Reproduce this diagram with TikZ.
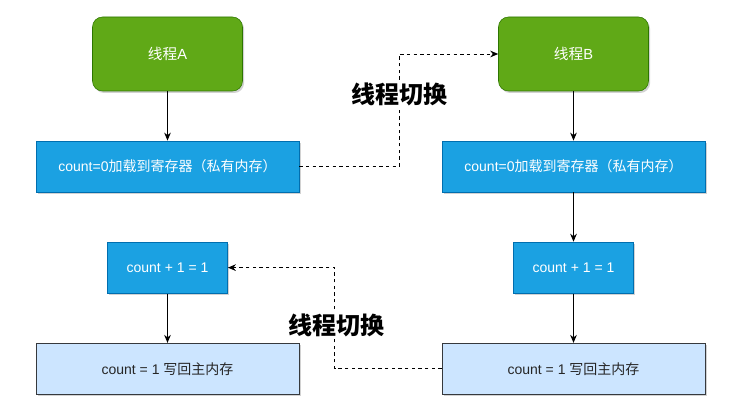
\documentclass[tikz,border=0pt]{standalone}
\usepackage{fontspec}
\setmainfont{Liberation Sans}
\newfontfamily\cjk{Noto Sans CJK SC}
\usetikzlibrary{arrows.meta,positioning,shadows}
\definecolor{thrgreen}{HTML}{60A917}
\definecolor{thrgreenb}{HTML}{2D7600}
\definecolor{opblue}{HTML}{1BA1E2}
\definecolor{opblueb}{HTML}{006EAF}
\definecolor{memblue}{HTML}{CCE5FF}
\definecolor{memblueb}{HTML}{36393D}
\tikzset{
  boxshadow/.style={drop shadow={shadow xshift=1.2pt, shadow yshift=-1.5pt, opacity=0.25, fill=black!70}},
  thr/.style={rectangle, draw=thrgreenb, fill=thrgreen, rounded corners=7.5pt, boxshadow,
              minimum width=112.5pt, minimum height=55.5pt, text=white, font=\fontsize{11}{13}\selectfont},
  opbox/.style={rectangle, draw=opblueb, fill=opblue, boxshadow, line width=0.6pt,
              minimum width=#1, minimum height=38.25pt, text=white, font=\fontsize{10.5}{12}\selectfont},
  opbox/.default=197.25pt,
  membox/.style={rectangle, draw=memblueb, fill=memblue, boxshadow, line width=0.6pt,
              minimum width=197.25pt, minimum height=38.25pt, text=black!85, font=\fontsize{10.5}{12}\selectfont},
  swlbl/.style={fill=white, inner sep=1.5pt, font=\fontsize{18}{20}\selectfont\cjk\bfseries},
  arr/.style={-{Stealth[length=6pt,width=5pt]}, line width=0.75pt},
  swarr/.style={-{Stealth[length=6pt,width=5pt]}, line width=0.7pt, dash pattern=on 2.5pt off 2.5pt},
}
\begin{document}
\begin{tikzpicture}[x=0.75pt, y=-0.75pt, node distance=37pt]
\useasboundingbox (0,0) rectangle (755,416);

% Thread A
\node[thr] (thrA) at (167.5,54) {{\cjk 线程}A};
\node[opbox, below=of thrA] (loadA) {count=0{\cjk 加载到寄存器（私有内存）}};
\node[opbox=90pt, below=of loadA] (incA) {count + 1 = 1};
\node[membox, below=of incA] (saveA) {count = 1 {\cjk 写回主内存}};

% Thread B
\node[thr] (thrB) at (573.5,54) {{\cjk 线程}B};
\node[opbox, below=of thrB] (loadB) {count=0{\cjk 加载到寄存器（私有内存）}};
\node[opbox=90pt, below=of loadB] (incB) {count + 1 = 1};
\node[membox, below=of incB] (saveB) {count = 1 {\cjk 写回主内存}};

% Main flow
\draw[arr] (thrA) -- (loadA);
\draw[arr] (incA) -- (saveA);
\draw[arr] (thrB) -- (loadB);
\draw[arr] (loadB) -- (incB);
\draw[arr] (incB) -- (saveB);

% Switches
\draw[swarr] (loadA.east) -- ++(100,0) |- (thrB.west);
\draw[swarr] (saveB.west) -- ++(-107,0) |- (incA.east);
\node[swlbl] (sw1) at (399,94) {线程切换};
\node[swlbl] (sw2) at (336,325) {线程切换};

\end{tikzpicture}
\end{document}
